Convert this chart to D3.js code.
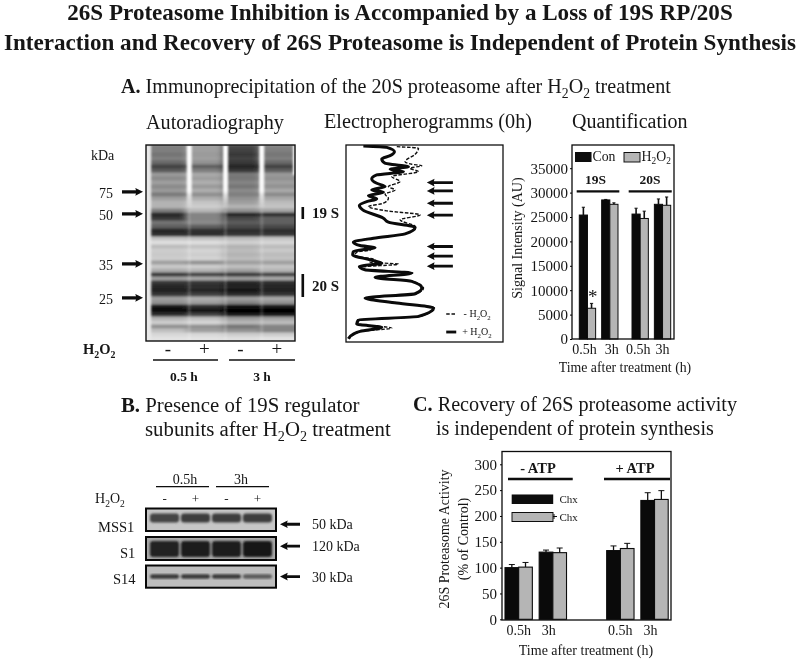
<!DOCTYPE html>
<html><head><meta charset="utf-8">
<script src="https://cdn.jsdelivr.net/npm/d3@7/dist/d3.min.js"></script>
<style>
html,body{margin:0;padding:0;background:#fff}
svg{display:block}
text{font-family:"Liberation Serif","Times New Roman",serif;fill:#151515}
</style></head><body>
<svg id="c" width="800" height="660" viewBox="0 0 800 660"></svg>
<script>
// ---- Quantification (panel A)
const quantGroups = ["19S","20S"];
const quantTimes = ["0.5h","3h"];
const quantSeries = ["Con","H2O2"];
const quantCon = [25400,28500,25600,27600];
const quantH2O2 = [6300,27600,24700,27400];
const quantConErr = [1600,100,1200,1100];
const quantH2O2Err = [1000,300,1500,1700];
const quantTicks = [0,5000,10000,15000,20000,25000,30000,35000];
// ---- Recovery (panel C)
const recGroups = ["- ATP","+ ATP"];
const recTimes = ["0.5h","3h"];
const recSeries = ["Chx-","Chx+"];
const recBlack = [100,130,133,230];
const recGrey = [101,129,137,232];
const recBlackErr = [6,4,9,15];
const recGreyErr = [9,9,10,17];
const recTicks = [0,50,100,150,200,250,300];
// ---- Gel darkness per lane, top to bottom
const gelLanes = ["L1","L2","L3","L4"];
const lane1 = [.62,.62,.66,.62,.7,.82,.74,.52,.58,.5,.58,.52,.64,.5,.42,.42,.62,.9,.85,.66,.72,.9,.88,.34,.2,.38,.3,.32,.3,.5,.32,.45,.85,.5,.85,.9,.92,.85,.5,.55,.95,.98,.88,.42,.3,.55,.36,.24,.18];
const lane2 = [.5,.5,.52,.5,.55,.72,.62,.46,.5,.44,.52,.44,.56,.44,.34,.3,.4,.6,.6,.58,.72,.88,.88,.36,.2,.35,.26,.3,.26,.55,.3,.42,.82,.46,.85,.88,.9,.82,.44,.5,.88,.95,.82,.36,.25,.55,.5,.24,.18];
const lane3 = [.8,.82,.85,.82,.85,.9,.85,.64,.65,.6,.65,.58,.62,.55,.5,.42,.55,.9,.8,.74,.8,.88,.85,.38,.28,.42,.38,.42,.38,.5,.36,.5,.85,.5,.9,.92,.95,.88,.5,.6,.98,1,.95,.5,.4,.65,.55,.3,.2];
const lane4 = [.6,.62,.65,.62,.7,.82,.72,.52,.55,.5,.55,.46,.58,.46,.38,.34,.48,.88,.72,.72,.8,.88,.85,.34,.25,.38,.32,.38,.35,.5,.34,.42,.82,.46,.88,.9,.92,.85,.46,.55,.95,1,.95,.48,.38,.6,.6,.3,.18];
const kdaMarkers = [75,50,35,25];
const kdaRow = [11.7,17.2,29.7,38.2];
// ---- Electropherogram traces: [signal, migration]
const traceMinus = [[152,5],[217,10],[207,28],[177,50],[197,58],[227,62],[192,70],[217,80],[137,95],[162,110],[127,125],[147,135],[117,148],[127,160],[112,175],[67,185],[122,198],[222,210],[162,225],[207,245],[177,267],[87,280],[27,292],[62,310],[74,315],[32,322],[27,332],[87,345],[72,352],[157,358],[47,367],[60,375],[200,385],[90,398],[200,410],[232,430],[210,447],[60,460],[155,475],[265,490],[222,515],[40,526],[35,538],[137,550],[47,560],[27,568],[10,582]];
const tracePlus = [[52,3],[122,7],[145,20],[132,32],[107,42],[117,55],[152,60],[187,65],[132,73],[172,80],[92,90],[77,102],[92,115],[117,125],[77,135],[112,142],[67,152],[92,162],[62,170],[40,182],[50,195],[112,220],[127,232],[207,248],[177,267],[82,280],[22,292],[42,302],[87,308],[22,320],[20,330],[72,345],[107,355],[40,365],[57,375],[197,385],[87,398],[197,410],[227,430],[207,447],[57,460],[152,475],[262,490],[217,515],[37,526],[32,538],[107,548],[42,560],[22,568],[7,582]];
const peakArrows = [113,138,175,211,305,334,364];
// ---- Western blots
const blotNames = ["MSS1","S1","S14"];
const blotSizes = ["50 kDa","120 kDa","30 kDa"];
const blotLanes = ["a","b","c","d"];
const blotBg = ["#c6c6c6","#a8a8a8","#bdbdbd"];
const mssBand = [.72,.76,.76,.76];
const s1Band = [.9,.92,.92,.95];
const s14Band = [.78,.78,.78,.62];
const blotBandPos = [.42,.52,.5];
const blotBandThick = [9,16,4.5];
const blotArrowPos = [.7,.4,.5];

const svg = d3.select("#c");
const defs = svg.append("defs");
const mkBlur=(id,s)=>defs.append("filter").attr("id",id).attr("x","-20%").attr("y","-20%").attr("width","140%").attr("height","140%").append("feGaussianBlur").attr("stdDeviation",s);
mkBlur("gelBlur","3 1.1"); mkBlur("bandBlur","1.3"); mkBlur("wellBlur","1");
mkBlur("soft","0.35");
const wg = defs.append("linearGradient").attr("id","well").attr("x1",0).attr("y1",0).attr("x2",0).attr("y2",1);
wg.append("stop").attr("offset","0").attr("stop-color","#fff").attr("stop-opacity",1);
wg.append("stop").attr("offset","0.7").attr("stop-color","#fff").attr("stop-opacity",.95);
wg.append("stop").attr("offset","1").attr("stop-color","#fff").attr("stop-opacity",0);

const root = svg.append("g").attr("filter","url(#soft)");

function txt(x,y,s,size,opt={}){
  const t=root.append("text").attr("x",x).attr("y",y).attr("font-size",size)
    .attr("text-anchor",opt.a||"start").attr("font-weight",opt.b?"bold":"normal");
  if(opt.rot!==undefined) t.attr("transform",`rotate(${opt.rot} ${x} ${y})`);
  parts(t,s,size); return t;
}
function parts(t,s,size){
  const re=/(\*\*[^*]+\*\*|_[^_]+_)/;
  let shifted=false;
  s.split(re).filter(p=>p!=="").forEach(p=>{
    const ts=t.append("tspan");
    if(p.startsWith("**")) ts.attr("font-weight","bold").text(p.slice(2,-2));
    else if(p.startsWith("_")){ts.attr("font-size",size*.68).attr("dy",shifted?0:size*.25).text(p.slice(1,-1));shifted=true;}
    else { if(shifted){ts.attr("dy",-size*.25);shifted=false;} ts.text(p);}
  });
}
function arrow(x1,y,x2,w,head){
  const dir=Math.sign(x2-x1);
  root.append("path").attr("fill","#0a0a0a")
   .attr("d",`M${x1},${y-w/2}L${x2-dir*head},${y-w/2}L${x2-dir*head*1.1},${y-head*.55}L${x2},${y}L${x2-dir*head*1.1},${y+head*.55}L${x2-dir*head},${y+w/2}L${x1},${y+w/2}Z`);
}
function hline(x1,x2,y,w){root.append("line").attr("x1",x1).attr("x2",x2).attr("y1",y).attr("y2",y).attr("stroke","#0a0a0a").attr("stroke-width",w);}

// Titles
txt(400,20,"26S Proteasome Inhibition is Accompanied by a Loss of 19S RP/20S",23.1,{a:"middle",b:1});
txt(400,50,"Interaction and Recovery of 26S Proteasome is Independent of Protein Synthesis",23.1,{a:"middle",b:1});
txt(121,93,"**A.** Immunoprecipitation of the 20S proteasome after H_2_O_2_ treatment",20.1);
txt(146,129,"Autoradiography",20.2);
txt(324,128,"Electropherogramms (0h)",20.2);
txt(572,128,"Quantification",20);
txt(121,412,"**B.** Presence of 19S regulator",20.8);
txt(145,436,"subunits after H_2_O_2_ treatment",20.8);
txt(413,411,"**C.** Recovery of 26S proteasome activity",20.2);
txt(436,435,"is independent of protein synthesis",20);

// ---- Gel
const gel={l:146,r:295,t:145,b:341};
const gelRowsN=lane1.length;
const gelY=d3.scaleBand().domain(d3.range(gelRowsN)).range([gel.t,gel.b]);
const gelX=d3.scaleBand().domain(gelLanes).range([150,295]);
const gelColor=d3.scalePow().exponent(1.5).domain([0,1]).range(["#f4f4f4","#040404"]);
defs.append("clipPath").attr("id","gelClip").append("rect").attr("x",gel.l).attr("y",gel.t).attr("width",gel.r-gel.l).attr("height",gel.b-gel.t);
const gelG=svg.append("g").attr("clip-path","url(#gelClip)");
gelG.append("rect").attr("x",gel.l).attr("y",gel.t).attr("width",gel.r-gel.l).attr("height",gel.b-gel.t).attr("fill","#e6e6e6");
const gelCells=gelG.append("g").attr("filter","url(#gelBlur)");
[lane1,lane2,lane3,lane4].forEach((lane,li)=>{
  gelCells.selectAll(null).data(lane).join("rect")
   .attr("x",gelX(gelLanes[li])-(li==0?3:0)).attr("y",(d,i)=>gelY(i)-.5)
   .attr("width",gelX.bandwidth()+(li==3?6:1)+(li==0?3:0)).attr("height",gelY.bandwidth()+1)
   .attr("fill",d=>gelColor(d));
});
const wells=gelG.append("g").attr("filter","url(#wellBlur)");
gelLanes.slice(1).forEach(l=>{
  const x=gelX(l)+3;
  wells.append("rect").attr("x",x-2.5).attr("width",5).attr("y",gel.t).attr("height",65).attr("fill","url(#well)");
  wells.append("rect").attr("x",x-1.5).attr("width",3).attr("y",gel.t+65).attr("height",gel.b-gel.t-65).attr("fill","#fff").attr("opacity",.16);
});
wells.append("rect").attr("x",gel.l-2).attr("width",7).attr("y",gel.t).attr("height",196).attr("fill","#e8e8e8");
wells.append("rect").attr("x",gel.r-2).attr("width",3).attr("y",gel.t).attr("height",30).attr("fill","#fff");
svg.append("rect").attr("x",gel.l).attr("y",gel.t).attr("width",gel.r-gel.l).attr("height",gel.b-gel.t).attr("fill","none").attr("stroke","#111").attr("stroke-width",1.4);

txt(91,160,"kDa",14);
kdaMarkers.forEach((k,i)=>{
  const y=gelY(0)+kdaRow[i]*gelY.step();
  txt(113,y+6,String(k),14,{a:"end"});
  arrow(122,y,143,3.2,7);
});
root.append("rect").attr("x",301.5).attr("y",207).attr("width",2.6).attr("height",12).attr("fill","#0a0a0a");
root.append("rect").attr("x",301.5).attr("y",274).attr("width",2.6).attr("height",23).attr("fill","#0a0a0a");
txt(312,218,"19 S",15,{b:1});
txt(312,291,"20 S",15,{b:1});
txt(83,354,"H_2_O_2_",14.5,{b:1});
["-","+","-","+"].forEach((s,i)=>txt(gelX(gelLanes[i])+18,355,s,19,{a:"middle"}));
hline(153,218,360,1.4); hline(229,295,360,1.4);
txt(184,381,"0.5 h",13.5,{a:"middle",b:1});
txt(262,381,"3 h",13.5,{a:"middle",b:1});

// ---- Electropherogram
const ep={l:346,r:503,t:145,b:342};
const epX=d3.scaleLinear().domain([0,470]).range([ep.l,ep.r]);
const epY=d3.scaleLinear().domain([0,592]).range([ep.t,ep.b]);
const epLine=d3.line().x(d=>epX(d[0])).y(d=>epY(d[1])).curve(d3.curveMonotoneY);
defs.append("clipPath").attr("id","epClip").append("rect").attr("x",ep.l).attr("y",ep.t).attr("width",ep.r-ep.l).attr("height",ep.b-ep.t);
const epG=svg.append("g").attr("clip-path","url(#epClip)");
epG.append("path").attr("d",epLine(traceMinus)).attr("fill","none").attr("stroke","#111").attr("stroke-width",1.4).attr("stroke-dasharray","3.5 1.6");
epG.append("path").attr("d",epLine(tracePlus)).attr("fill","none").attr("stroke","#0a0a0a").attr("stroke-width",3).attr("stroke-linejoin","round");
svg.append("rect").attr("x",ep.l).attr("y",ep.t).attr("width",ep.r-ep.l).attr("height",ep.b-ep.t).attr("fill","none").attr("stroke","#111").attr("stroke-width",1.3);
peakArrows.forEach(m=>arrow(epX(320),epY(m),epX(242),2.8,7));
root.append("line").attr("x1",epX(300)).attr("x2",epX(330)).attr("y1",epY(508)).attr("y2",epY(508)).attr("stroke","#111").attr("stroke-width",1.5).attr("stroke-dasharray","3.5 1.8");
root.append("line").attr("x1",epX(300)).attr("x2",epX(330)).attr("y1",epY(562)).attr("y2",epY(562)).attr("stroke","#0a0a0a").attr("stroke-width",2.8);
txt(epX(352),epY(517),"- H_2_O_2_",10);
txt(epX(348),epY(571),"+ H_2_O_2_",10);

// ---- grouped bars helper
function bars(cfg){
  const {groups,times,series,vals,errs,x0,xT,xS,y,colors,sw,capW,capS}=cfg;
  const g=svg.append("g");
  groups.forEach((gr,gi)=>times.forEach((t,ti)=>series.forEach((s,si)=>{
    const k=gi*times.length+ti, v=vals[si][k], e=errs[si][k];
    const x=x0(gr)+xT(t)+xS(s), w=xS.bandwidth();
    g.append("line").attr("x1",x+w/2).attr("x2",x+w/2).attr("y1",y(v)).attr("y2",y(v+e)).attr("stroke","#111").attr("stroke-width",capS);
    g.append("line").attr("x1",x+w/2-capW).attr("x2",x+w/2+capW).attr("y1",y(v+e)).attr("y2",y(v+e)).attr("stroke","#111").attr("stroke-width",1);
    g.append("rect").attr("x",x).attr("y",y(v)).attr("width",w).attr("height",y(0)-y(v)).attr("fill",colors[si]).attr("stroke","#0c0c0c").attr("stroke-width",sw);
  })));
}
function axisStyle(ax){ax.selectAll("text").attr("font-size",15).attr("fill","#151515");}

// ---- Quantification
const q={l:572,r:674,t:145,b:339};
const qY=d3.scaleLinear().domain([0,35000]).range([339,168.2]);
const qX0=d3.scaleBand().domain(quantGroups).range([579.3,670.7]).paddingInner(.266);
const qXT=d3.scaleBand().domain(quantTimes).range([0,qX0.bandwidth()]).paddingInner(.27);
const qXS=d3.scaleBand().domain(quantSeries).range([0,qXT.bandwidth()]);
bars({groups:quantGroups,times:quantTimes,series:quantSeries,vals:[quantCon,quantH2O2],errs:[quantConErr,quantH2O2Err],x0:qX0,xT:qXT,xS:qXS,y:qY,colors:["#0a0a0a","#b5b5b5"],sw:1,capW:1.6,capS:1.6});
svg.append("rect").attr("x",q.l).attr("y",q.t).attr("width",q.r-q.l).attr("height",q.b-q.t).attr("fill","none").attr("stroke","#0c0c0c").attr("stroke-width",1.3);
const qAx=svg.append("g").attr("transform",`translate(${q.l},0)`).call(d3.axisLeft(qY).tickValues(quantTicks).tickFormat(d3.format("d")).tickSize(2).tickPadding(2));
qAx.select(".domain").remove(); axisStyle(qAx);
txt(522,238,"Signal Intensity (AU)",14,{a:"middle",rot:-90});
const qLabelShift=[-3,2,-2,0];
quantGroups.forEach((g,gi)=>quantTimes.forEach((t,ti)=>{txt(qX0(g)+qXT(t)+qXT.bandwidth()/2+qLabelShift[gi*2+ti],354,t,14,{a:"middle"});}));
txt(625,372,"Time after treatment (h)",13.8,{a:"middle"});
root.append("rect").attr("x",575).attr("y",152).attr("width",16.5).attr("height",10).attr("fill","#0a0a0a");
txt(592.5,161,"Con",13.8);
root.append("rect").attr("x",624).attr("y",152.5).attr("width",16).attr("height",9.5).attr("fill","#b5b5b5").attr("stroke","#111").attr("stroke-width",1);
txt(641.5,161,"H_2_O_2_",13.8);
txt(595.5,184,"19S",13.5,{a:"middle",b:1});
txt(650,184,"20S",13.5,{a:"middle",b:1});
hline(576.7,619.3,191.3,2.2); hline(628.7,671.7,191.3,2.2);
txt(592.7,303,"*",19,{a:"middle"});

// ---- Blots
const blotF=[{t:508.5,b:531},{t:537,b:560},{t:565.5,b:587.7}];
const blotX=d3.scaleBand().domain(blotLanes).range([150,272]).paddingInner(.06);
const blotC=d3.scaleLinear().domain([0,1]).range(["#d8d8d8","#0c0c0c"]);
[mssBand,s1Band,s14Band].forEach((arr,bi)=>{
  const f=blotF[bi];
  defs.append("clipPath").attr("id","blot"+bi).append("rect").attr("x",146).attr("y",f.t).attr("width",130).attr("height",f.b-f.t);
  const g=svg.append("g").attr("clip-path",`url(#blot${bi})`);
  g.append("rect").attr("x",146).attr("y",f.t).attr("width",130).attr("height",f.b-f.t).attr("fill",blotBg[bi]);
  g.append("g").attr("filter","url(#bandBlur)").selectAll("rect").data(arr).join("rect")
    .attr("x",(d,i)=>blotX(blotLanes[i]))
    .attr("y",f.t+(f.b-f.t)*blotBandPos[bi]-blotBandThick[bi]/2)
    .attr("width",blotX.bandwidth()).attr("height",blotBandThick[bi])
    .attr("rx",3)
    .attr("fill",d=>blotC(d));
  svg.append("rect").attr("x",146).attr("y",f.t).attr("width",130).attr("height",f.b-f.t).attr("fill","none").attr("stroke","#080808").attr("stroke-width",2);
  arrow(300,f.t+(f.b-f.t)*blotArrowPos[bi],280,2.8,7);
  txt(312,f.t+(f.b-f.t)*blotArrowPos[bi]+5,blotSizes[bi],14);
});
txt(98,532,blotNames[0],14.5);
txt(120,558,blotNames[1],14.5);
txt(113,584,blotNames[2],14.5);
txt(185,484,"0.5h",14,{a:"middle"});
txt(241,484,"3h",14,{a:"middle"});
hline(156,209,486.7,1.3); hline(216,269,486.7,1.3);
txt(95,503,"H_2_O_2_",14);
["-","+","-","+"].forEach((s,i)=>txt(blotX(blotLanes[i])+blotX.bandwidth()/2,503,s,13,{a:"middle"}));

// ---- Recovery
const r={l:502,r:671,t:451.5,b:620};
const rY=d3.scaleLinear().domain([0,300]).range([619.3,464.3]);
const rX0=d3.scaleBand().domain(recGroups).range([505,668.2]).paddingInner(.395);
const rXT=d3.scaleBand().domain(recTimes).range([0,rX0.bandwidth()]).paddingInner(.2);
const rXS=d3.scaleBand().domain(recSeries).range([0,rXT.bandwidth()]);
bars({groups:recGroups,times:recTimes,series:recSeries,vals:[recBlack,recGrey],errs:[recBlackErr,recGreyErr],x0:rX0,xT:rXT,xS:rXS,y:rY,colors:["#0a0a0a","#b5b5b5"],sw:1.1,capW:3,capS:1.3});
svg.append("rect").attr("x",r.l).attr("y",r.t).attr("width",r.r-r.l).attr("height",r.b-r.t).attr("fill","none").attr("stroke","#0c0c0c").attr("stroke-width",1.3);
const rAx=svg.append("g").attr("transform",`translate(${r.l},0)`).call(d3.axisLeft(rY).tickValues(recTicks).tickFormat(d3.format("d")).tickSize(2).tickPadding(3));
rAx.select(".domain").remove(); axisStyle(rAx);
txt(449,539,"26S Proteasome Activity",14,{a:"middle",rot:-90});
txt(468,539,"(% of Control)",14,{a:"middle",rot:-90});
recGroups.forEach(g=>recTimes.forEach(t=>{txt(rX0(g)+rXT(t)+rXT.bandwidth()/2+(t=="3h"?-4:0),635,t,14,{a:"middle"});}));
txt(586,655,"Time after treatment (h)",14,{a:"middle"});
txt(538,473,recGroups[0],14.5,{a:"middle",b:1});
txt(635,473,recGroups[1],14.5,{a:"middle",b:1});
hline(508,572.7,479,2.4); hline(604,670,479,2.4);
root.append("rect").attr("x",511.7).attr("y",494.5).attr("width",41.5).attr("height",9.5).attr("fill","#0a0a0a");
root.append("rect").attr("x",512).attr("y",512.5).attr("width",41).attr("height",9).attr("fill","#b5b5b5").attr("stroke","#111").attr("stroke-width",1);
hline(553,557,516.5,1);
root.append("line").attr("x1",554).attr("x2",554).attr("y1",514).attr("y2",519).attr("stroke","#111");
txt(559.5,503,"Chx",11);
txt(559.5,520.5,"Chx",11);
</script>
</body></html>
